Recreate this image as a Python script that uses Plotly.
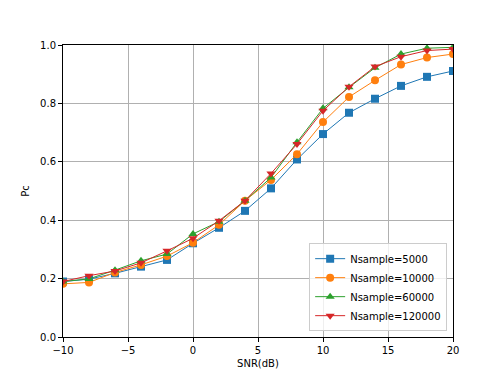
import plotly.graph_objects as go

snr = [-10, -8, -6, -4, -2, 0, 2, 4, 6, 8, 10, 12, 14, 16, 18, 20]

pc_5000 = [0.190, 0.198, 0.218, 0.241, 0.264, 0.321, 0.374, 0.432, 0.509, 0.608,
           0.695, 0.768, 0.816, 0.860, 0.891, 0.911]
pc_10000 = [0.182, 0.187, 0.221, 0.247, 0.277, 0.323, 0.384, 0.467, 0.538, 0.626,
            0.736, 0.822, 0.879, 0.933, 0.957, 0.969]
pc_60000 = [0.190, 0.199, 0.229, 0.261, 0.284, 0.353, 0.395, 0.467, 0.546, 0.667,
            0.783, 0.855, 0.922, 0.969, 0.989, 0.992]
pc_120000 = [0.190, 0.210, 0.226, 0.254, 0.295, 0.338, 0.398, 0.467, 0.560, 0.661,
             0.775, 0.857, 0.926, 0.960, 0.981, 0.986]

series = [
    ("Nsample=5000", pc_5000, "#1f77b4", "square"),
    ("Nsample=10000", pc_10000, "#ff7f0e", "circle"),
    ("Nsample=60000", pc_60000, "#2ca02c", "triangle-up"),
    ("Nsample=120000", pc_120000, "#d62728", "triangle-down"),
]

fig = go.Figure()
for name, vals, color, sym in series:
    fig.add_trace(go.Scatter(
        x=snr, y=vals, mode="lines+markers", name=name,
        line=dict(color=color, width=1),
        marker=dict(color=color, symbol=sym, size=8),
    ))

axis_style = dict(
    showline=True, linecolor="black", linewidth=1, mirror=True,
    ticks="outside", ticklen=4, tickcolor="black",
    showgrid=True, gridcolor="#b0b0b0", gridwidth=1, zeroline=False,
    tickfont=dict(size=10, color="black"),
)

# page body has an 8px margin, so the figure is offset by that much
fig.update_layout(
    width=496, height=370,
    margin=dict(l=55, r=51, t=37, b=41),
    paper_bgcolor="white", plot_bgcolor="white",
    font=dict(family="DejaVu Sans", size=10, color="black"),
    xaxis=dict(range=[-10, 20], dtick=5, title=dict(text="SNR(dB)", standoff=4, font=dict(size=10)), **axis_style),
    yaxis=dict(range=[0, 1], dtick=0.2, tickformat=".1f", title=dict(text="Pc", standoff=8, font=dict(size=10)), **axis_style),
    legend=dict(x=0.985, y=0.02, xanchor="right", yanchor="bottom",
                bordercolor="#cccccc", borderwidth=1, bgcolor="rgba(255,255,255,0.8)",
                font=dict(size=10), tracegroupgap=0),
    showlegend=True,
)

fig.write_html("out.html")
